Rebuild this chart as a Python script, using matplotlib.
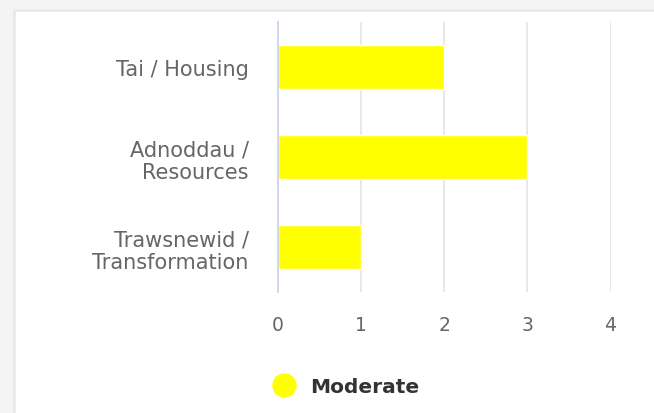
import matplotlib.pyplot as plt
from matplotlib.patches import Rectangle
from matplotlib.lines import Line2D

# Dữ liệu
categories = ["Tai / Housing", "Adnoddau /\nResources", "Trawsnewid /\nTransformation"]
values = [2, 3, 1]
series_name = "Moderate"
xticks = [0, 1, 2, 3, 4]

W, H = 654, 414
fig = plt.figure(figsize=(W / 100, H / 100), dpi=100, facecolor="#f4f4f4")

# Nền thẻ (card) với bóng mờ
for i, c in enumerate(["#ececec", "#e6e6e6", "#eeeeee"]):
    fig.patches.append(Rectangle(((13 + i) / W, 0), 1, (H - 10 - i) / H,
                                 transform=fig.transFigure, facecolor=c,
                                 edgecolor="none", zorder=-2))
fig.patches.append(Rectangle((16 / W, 0), 1, (H - 13) / H,
                             transform=fig.transFigure, facecolor="white",
                             edgecolor="none", zorder=-1))

ax = fig.add_axes([278 / W, 1 - 293 / H, (610.5 - 278) / W, (293 - 23) / H])
ax.set_zorder(2)
ax.set_facecolor("none")
ax.barh(range(len(categories)), values, height=0.48, color="#ffff00",
        edgecolor="white", linewidth=1, zorder=3)
ax.set_ylim(2.5, -0.5)
ax.set_xlim(0, 4)
ax.set_xticks(xticks)
ax.set_yticks(range(len(categories)))
ax.set_yticklabels(categories, fontsize=15, color="#666666", linespacing=1.2)
ax.tick_params(axis="y", length=0, pad=21)
ax.tick_params(axis="x", length=0, pad=16.5, labelsize=13.5, labelcolor="#666666")
ax.grid(axis="x", color="#e6e6e6", linewidth=1.3, zorder=0)
for s in ["top", "right", "bottom"]:
    ax.spines[s].set_visible(False)
ax.spines["left"].set_color("#ccd6eb")
ax.spines["left"].set_linewidth(1.3)
ax.spines["left"].set_zorder(4)

# Chú thích
handle = Line2D([], [], marker="o", linestyle="none", markersize=16.5,
                markerfacecolor="#ffff00", markeredgecolor="#ffff00")
fig.legend([handle], [series_name], loc="center", bbox_to_anchor=(346 / W, 1 - 388 / H),
           frameon=False, prop={"size": 14.5, "weight": "bold"}, labelcolor="#333333",
           handletextpad=0.7, handlelength=1.2)

fig.savefig("out.png", dpi=100, facecolor=fig.get_facecolor())
